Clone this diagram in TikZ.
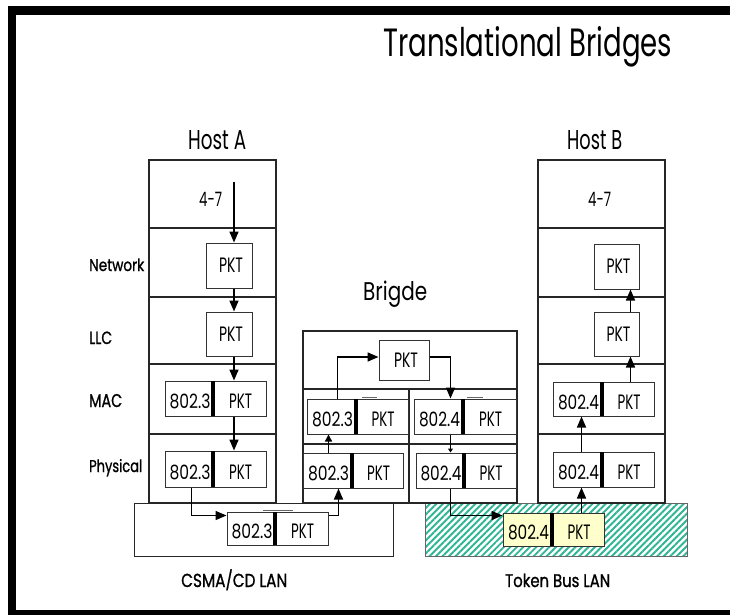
\documentclass[tikz,border=0pt]{standalone}
\usepackage{fontspec}
\usepackage{graphicx}
\setmainfont{Poppins}
\newfontfamily\medfont[FakeBold=1.2]{Poppins}
\usetikzlibrary{arrows.meta,fit,calc,patterns.meta}
\definecolor{hatch}{HTML}{2DB596}
\definecolor{pale}{HTML}{FFFFCC}
\newcommand\rbx[3]{\resizebox{#1pt}{#2pt}{#3}}
\newcommand\layer[5]{\node[lay,fit={(#2,#3) (#4,#5)}] (#1) {};}
\newcommand\pframe[8]{%
  \node[frm,fill=#8,fit={(#2,#3) (#4,#5)}] (#1) {};
  \draw[barline] (#6,#3) -- (#6,#5);
  \node[ctxt] (#1-l) at ({(#2+#6)/2+1},{(#3+#5)/2+3}) {\rbx{41}{14.5}{#7}};
  \node[ctxt] (#1-r) at ({(#6+#4)/2+1},{(#3+#5)/2+3}) {\rbx{23}{14.5}{PKT}};
}
\newcommand\pktbox[5]{%
  \node[frm,fit={(#2,#3) (#4,#5)}] (#1) {};
  \node[ctxt] (#1-t) at ({(#2+#4)/2+2},{(#3+#5)/2}) {\rbx{24}{14.5}{PKT}};
}
\begin{document}
\begin{tikzpicture}[x=1pt,y=-1pt,
  lay/.style={draw=black!85,line width=1.3pt,inner sep=0pt},
  frm/.style={draw=black!80,line width=1pt,inner sep=0pt,fill=white},
  barline/.style={line width=4pt},
  txt/.style={inner sep=0pt,anchor=base west},
  ctxt/.style={inner sep=0pt},
  arr/.style={line width=1.6pt,-{Triangle[length=11pt,width=9pt]}},
  sarr/.style={line width=1.4pt,-{Triangle[length=7pt,width=7pt]}},
  tarr/.style={line width=1pt,-{Triangle[length=4pt,width=5pt]}},
  tick/.style={line width=0.8pt,draw=black!60}]
\useasboundingbox (0,0) rectangle (730,615);
\clip (0,0) rectangle (730,615);
\fill[white] (0,0) rectangle (730,615);
% LAN boxes
\node[lay,line width=1pt,fit={(134,503) (393,556)}] (Lcsma) {};
\node[inner sep=0pt,draw=black!60,line width=0.8pt,
      pattern={Lines[angle=45,distance=4.6pt,line width=1.9pt]},pattern color=hatch,
      fit={(425,503) (687,556)}] (Ltoken) {};
% Host A
\layer{A1}{149}{160}{276}{228}
\layer{A2}{149}{228}{276}{297}
\layer{A3}{149}{297}{276}{364}
\layer{A4}{149}{364}{276}{434}
\layer{A5}{149}{434}{276}{503}
% Host B
\layer{B1}{538}{160}{665}{228}
\layer{B2}{538}{228}{665}{297}
\layer{B3}{538}{297}{665}{364}
\layer{B4}{538}{364}{665}{434}
\layer{B5}{538}{434}{665}{503}
% Bridge
\layer{R0}{303}{331}{517}{389}
\layer{RMl}{303}{389}{409}{444}
\layer{RMr}{409}{389}{517}{444}
\layer{RPl}{303}{444}{409}{503}
\layer{RPr}{409}{444}{517}{503}
% packet boxes
\pktbox{Anet}{206}{243}{252}{288}
\pktbox{Allc}{206}{312}{252}{356}
\pktbox{Bpkt}{379}{340}{429}{380}
\pktbox{Hnet}{594}{244}{639}{289}
\pktbox{Hllc}{594}{312}{639}{356}
% frames
\pframe{Amac}{165}{381}{266}{416}{213}{802.3}{white}
\pframe{Aphy}{165}{451}{266}{487}{213}{802.3}{white}
\pframe{Fcs}{227}{512}{328}{545}{275}{802.3}{white}
\pframe{BMl}{307}{399}{408}{434}{356}{802.3}{white}
\pframe{BMr}{414}{399}{516}{434}{463}{802.4}{white}
\pframe{BPl}{303}{453}{403}{488}{352}{802.3}{white}
\pframe{BPr}{416}{453}{516}{488}{464}{802.4}{white}
\pframe{Ftk}{503}{513}{604}{546}{552}{802.4}{pale}
\pframe{Hmac}{553}{382}{654}{416}{602}{802.4}{white}
\pframe{Hphy}{553}{452}{654}{487}{602}{802.4}{white}
% small ticks
\draw[tick] (263,510.5) -- (293,510.5);
\draw[tick] (362,397.5) -- (377,397.5);
\draw[tick] (467,397.5) -- (483,397.5);
% arrows Host A
\coordinate (a47) at (234,182);
\draw[arr] (a47) -- (a47 |- Anet.north);
\draw[arr] (a47 |- Anet.south) -- (a47 |- Allc.north);
\draw[arr] (a47 |- Allc.south) -- (a47 |- Amac.north);
\draw[arr] (a47 |- Amac.south) -- (a47 |- Aphy.north);
\draw[arr] ($(Aphy.south west)+(27,0)$) |- ($(Fcs.north west)+(0,4)$);
\draw[arr] ($(Fcs.north east)+(0,4)$) -| ($(BPl.south west)+(36,0)$);
% bridge
\draw[sarr] ($(BPl.north west)+(26,0)$) -- ($(BMl.south west)+(22,0)$);
\draw[arr] ($(BMl.north west)+(31,0)$) |- ($(Bpkt.west)+(0,-3)$);
\draw[arr] ($(Bpkt.east)+(0,-3)$) -| ($(BMr.north west)+(37,0)$);
\draw[tarr] ($(BMr.south west)+(37,0)$) -- ($(BPr.north west)+(35,0)$);
\draw[arr] ($(BPr.south west)+(35,0)$) |- ($(Ftk.north west)+(0,3)$);
% Host B
\draw[arr] ($(Ftk.north west)+(79,0)$) -- ($(Hphy.south west)+(29,0)$);
\draw[arr] ($(Hphy.north west)+(29,0)$) -- ($(Hmac.south west)+(29,0)$);
\draw[arr] ($(Hmac.north west)+(78,0)$) -- ($(Hllc.south west)+(37,0)$);
\draw[arr] ($(Hllc.north west)+(37,0)$) -- ($(Hnet.south west)+(37,0)$);
% texts
\node[txt] (title) at (383,57) {\rbx{289}{30}{Translational Bridges}};
\node[txt] (hostA) at (188,149) {\rbx{58}{19}{Host A}};
\node[txt] (hostB) at (567,149) {\rbx{55}{19}{Host B}};
\node[txt] (brig) at (363,300) {\rbx{64}{19.5}{Brigde}};
\node[txt] (l47a) at (199,206) {\rbx{23}{14.3}{4-7}};
\node[txt] (l47b) at (588,206) {\rbx{23}{14.3}{4-7}};
\node[txt] (lnet) at (89,271) {\rbx{55}{12.5}{\medfont Network}};
\node[txt] (lllc) at (89,344) {\rbx{23}{12.5}{\medfont LLC}};
\node[txt] (lmac) at (89,407) {\rbx{33}{13}{\medfont MAC}};
\node[txt] (lphy) at (89,472) {\rbx{53}{13}{\medfont Physical}};
\node[txt] (lcsma) at (181,587) {\rbx{106}{13.3}{\medfont CSMA\smash{/}CD LAN}};
\node[txt] (ltok) at (505,587) {\rbx{105}{13.5}{\medfont Token Bus LAN}};
% outer frame
\draw[line width=8.5pt] (12,10.5) rectangle (734,614);
\end{tikzpicture}
\end{document}
